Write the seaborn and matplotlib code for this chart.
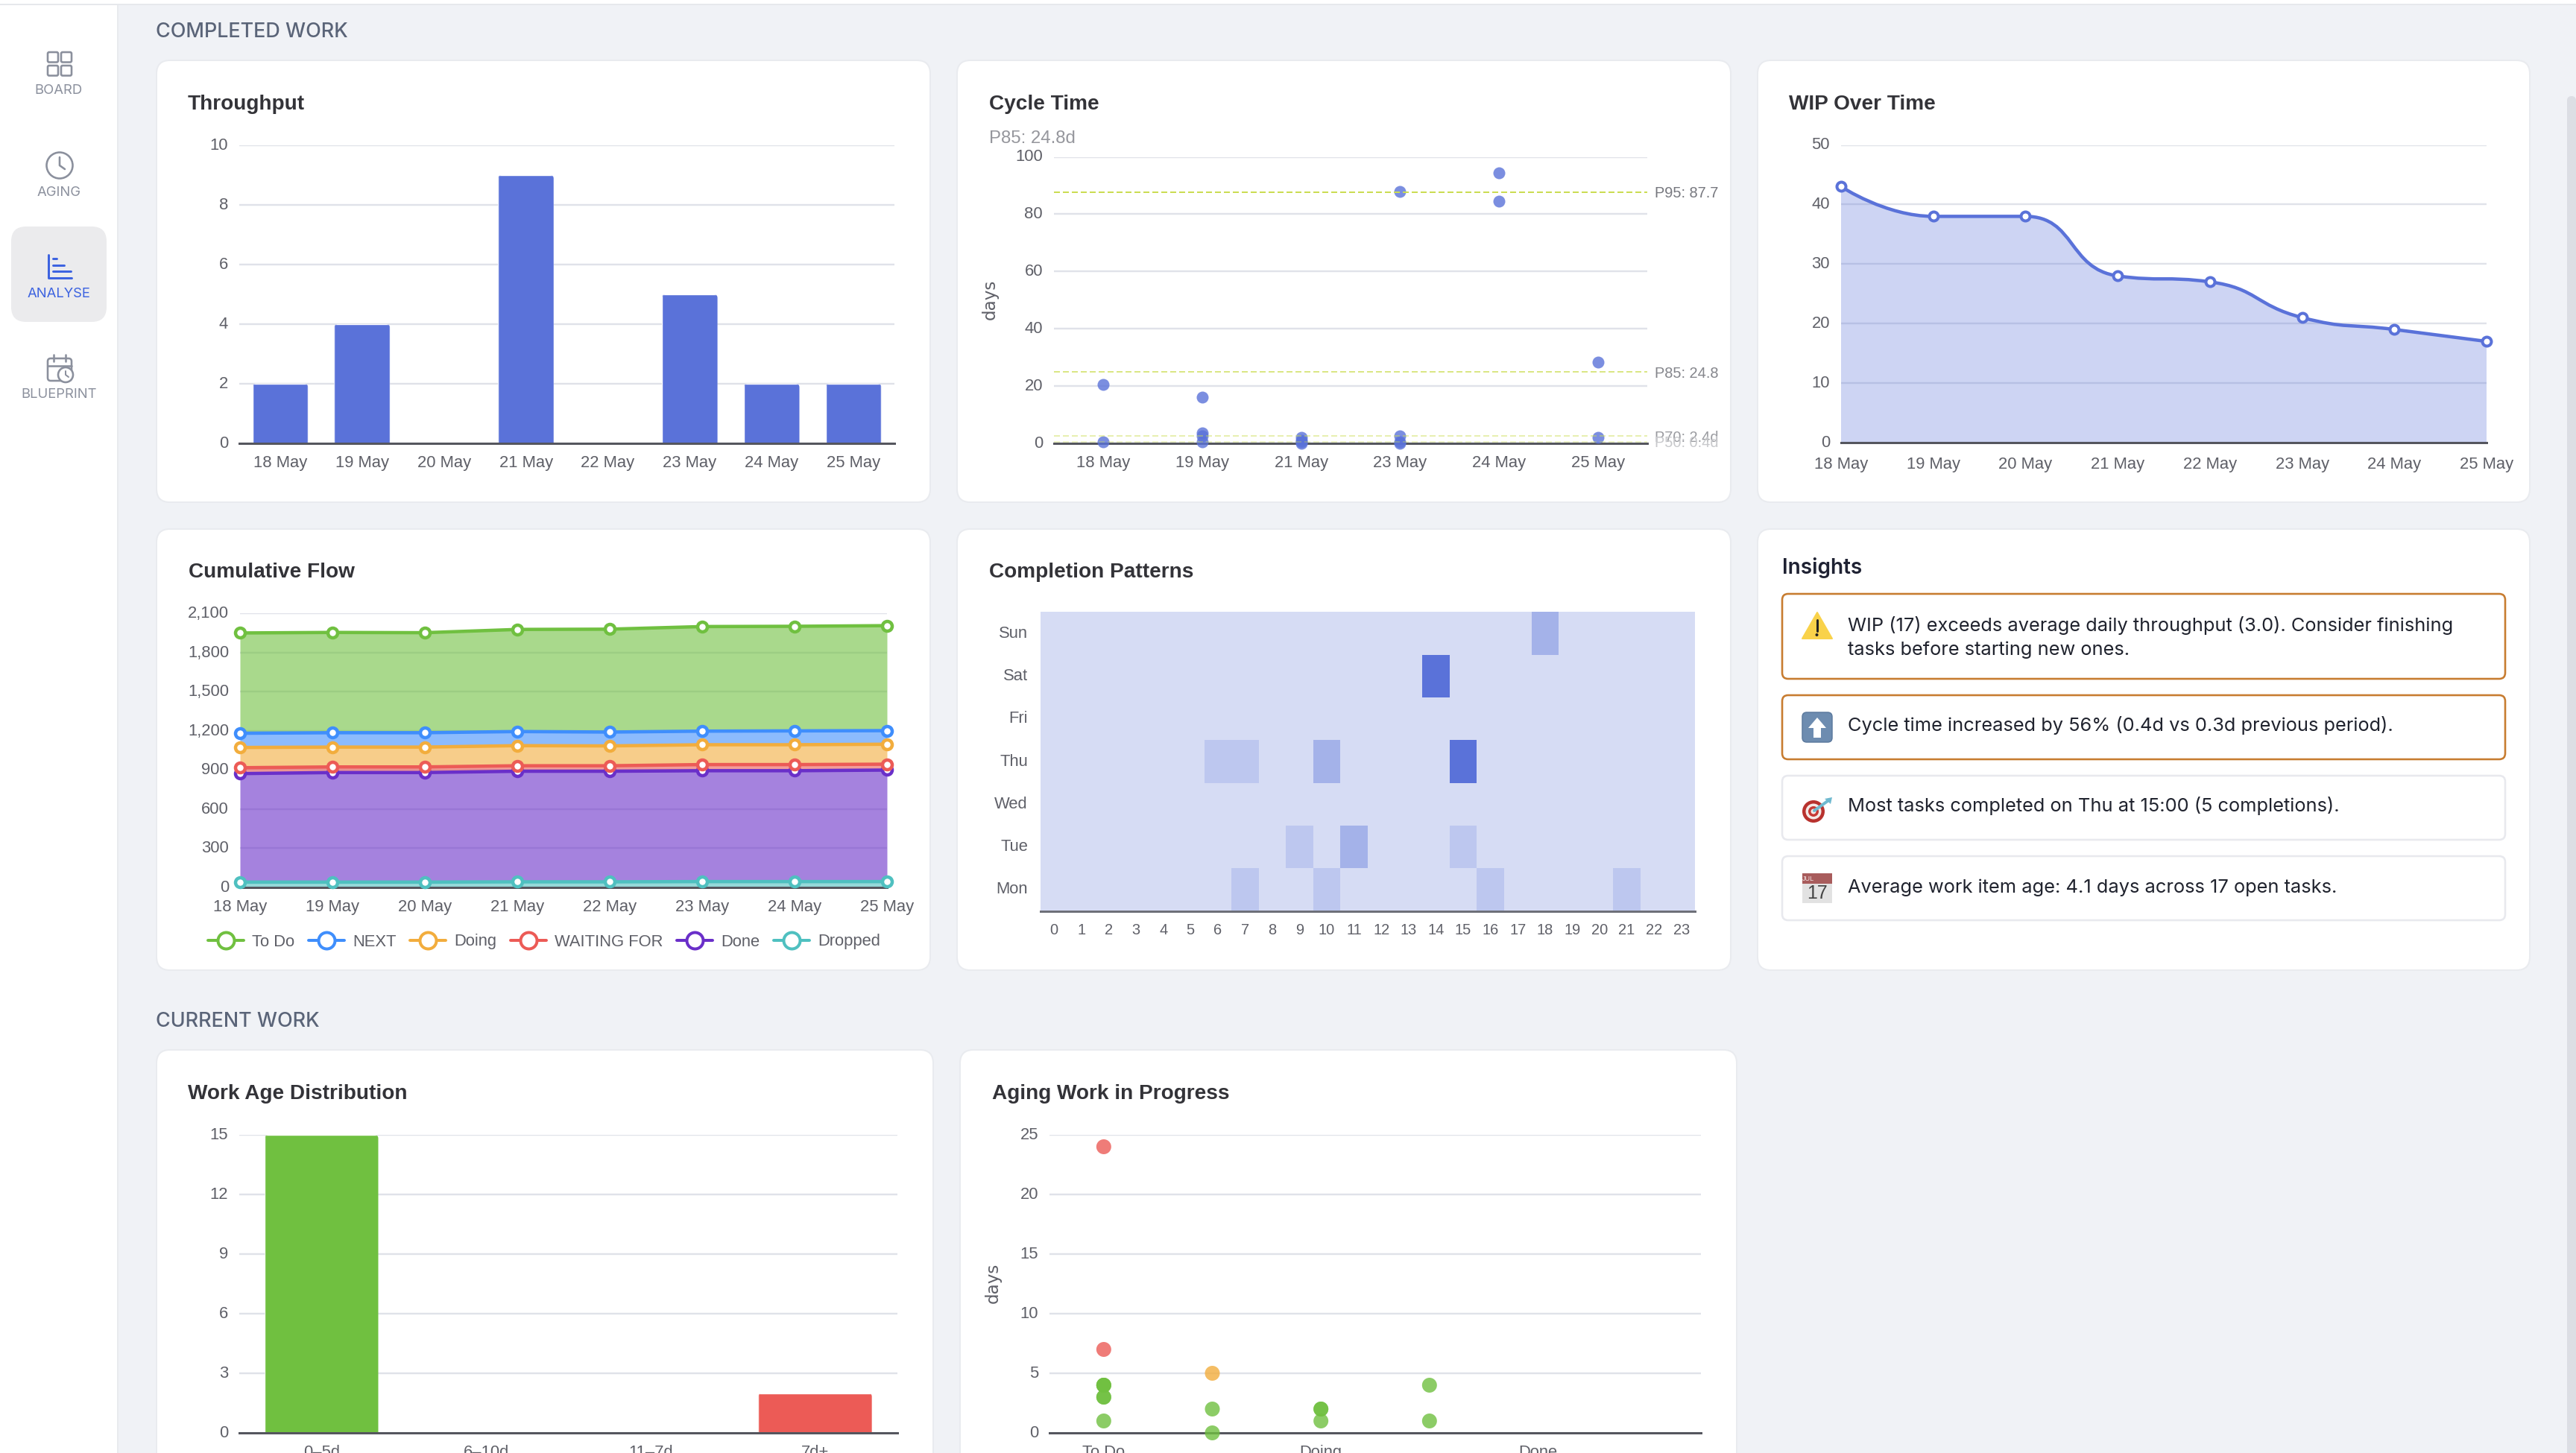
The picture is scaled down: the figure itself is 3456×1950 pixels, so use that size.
import numpy as np
import pandas as pd
import matplotlib
matplotlib.use("Agg")
import matplotlib.pyplot as plt
import seaborn as sns
from matplotlib.colors import LinearSegmentedColormap
from matplotlib.lines import Line2D
from matplotlib.patches import Circle, FancyBboxPatch, PathPatch, Polygon, Rectangle
from matplotlib.path import Path
from matplotlib.transforms import ScaledTranslation

# ---- data -------------------------------------------------------------
dates = ["18 May", "19 May", "20 May", "21 May", "22 May", "23 May", "24 May", "25 May"]
throughput = [2, 4, 0, 9, 0, 5, 2, 2]

cycle_dates = ["18 May", "19 May", "21 May", "23 May", "24 May", "25 May"]
cycle_x = ["18 May", "18 May", "19 May", "19 May", "19 May", "19 May", "21 May", "21 May",
           "21 May", "21 May", "23 May", "23 May", "23 May", "23 May", "24 May", "24 May",
           "25 May", "25 May"]
cycle_y = [20.5, 0.5, 16, 3.5, 2.5, 0.5, 2, 0.8, 0.3, 0, 88, 2.5, 0.5, 0, 94.5, 84.5, 28.3, 2]
percentile_labels = ["P95: 87.7", "P85: 24.8", "P70: 2.4d", "P50: 0.4d"]
percentile_values = [87.7, 24.8, 2.4, 0.4]

wip = [43, 38, 38, 28, 27, 21, 19, 17]

flow_names = ["Dropped", "Done", "WAITING FOR", "Doing", "NEXT", "To Do"]
flow_dropped = [41, 41, 41, 43, 43, 45, 45, 45]
flow_done = [831, 839, 839, 847, 847, 849, 849, 854]
flow_waiting = [45, 43, 43, 42, 42, 47, 47, 45]
flow_doing = [155, 152, 152, 154, 152, 152, 152, 153]
flow_next = [109, 110, 110, 108, 106, 104, 106, 104]
flow_todo = [768, 768, 766, 782, 788, 801, 801, 804]
legend_order = ["To Do", "NEXT", "Doing", "WAITING FOR", "Done", "Dropped"]

weekdays = ["Sun", "Sat", "Fri", "Thu", "Wed", "Tue", "Mon"]
hours = list(range(24))
completion_cells = [("Sun", 18, 2), ("Sat", 14, 5), ("Thu", 6, 1), ("Thu", 7, 1), ("Thu", 10, 2),
                    ("Thu", 15, 5), ("Tue", 9, 1), ("Tue", 11, 2), ("Tue", 15, 1),
                    ("Mon", 7, 1), ("Mon", 10, 1), ("Mon", 16, 1), ("Mon", 21, 1)]

age_bins = ["0–5d", "6–10d", "11–7d", "7d+"]
age_counts = [15, 0, 0, 2]

stages = ["To Do", "NEXT", "Doing", "WAITING FOR", "Done", "Dropped"]
stage_labels = ["To Do", "", "Doing", "", "Done", ""]
aging_stage = ["To Do"] * 8 + ["NEXT"] * 3 + ["Doing"] * 3 + ["WAITING FOR"] * 2
aging_days = [24, 7, 4, 4, 4, 3, 3, 1, 5, 2, 0, 2, 2, 1, 4, 1]
aging_level = ["old", "old", "new", "new", "new", "new", "new", "new", "mid", "new", "new",
               "new", "new", "new", "new", "new"]

insights = [
    "WIP (17) exceeds average daily throughput (3.0). Consider finishing\ntasks before starting new ones.",
    "Cycle time increased by 56% (0.4d vs 0.3d previous period).",
    "Most tasks completed on Thu at 15:00 (5 completions).",
    "Average work item age: 4.1 days across 17 open tasks.",
]

# ---- palette ----------------------------------------------------------
PAGE = "#f0f2f6"
BLUE = "#5a72d9"
GREEN = "#70c040"
RED = "#ec5b56"
ORANGE = "#f2ad3d"
GRID = "#e0e2e9"
AXIS = "#55565e"
TICK = "#5f6068"
TITLE = "#333338"
MUTED = "#8b909d"
ACTIVE = "#3d63e0"
flow_colors = {"To Do": GREEN, "NEXT": "#3f8efc", "Doing": ORANGE, "WAITING FOR": RED,
               "Done": "#6a2fc9", "Dropped": "#4fc0c0"}

W, H = 3456, 1950
SANS = ["Liberation Sans", "DejaVu Sans"]
UI = ["Inter", "DejaVu Sans"]

sns.set_theme(style="white")
plt.rcParams["font.family"] = SANS
plt.rcParams["axes.unicode_minus"] = False

fig = plt.figure(figsize=(W / 100, H / 100), dpi=100, facecolor=PAGE)


def pt(pixels):
    """Convert output pixels to points at 100 dpi."""
    return pixels * 0.72


# ---- page furniture, in pixel coordinates -------------------------------
bg = fig.add_axes([0, 0, 1, 1], zorder=0)
bg.set_xlim(0, W)
bg.set_ylim(H, 0)
bg.axis("off")


def rounded(x0, y0, x1, y1, radius, face, edge, lw=2.0, zorder=1):
    bg.add_patch(FancyBboxPatch((x0, y0), x1 - x0, y1 - y0,
                                boxstyle=f"round,pad=0,rounding_size={radius}",
                                facecolor=face, edgecolor=edge, linewidth=pt(lw), zorder=zorder))


def chart_axes(left, top, right, bottom):
    ax = fig.add_axes([left / W, 1 - bottom / H, (right - left) / W, (bottom - top) / H], zorder=2)
    ax.set_facecolor("none")
    return ax


def style_axes(ax, y_ticks, y_labels=None, xlim=None):
    for side in ("top", "left", "right"):
        ax.spines[side].set_visible(False)
    ax.spines["bottom"].set_color(AXIS)
    ax.spines["bottom"].set_linewidth(pt(3))
    ax.set_axisbelow(True)
    ax.grid(axis="y", color=GRID, linewidth=pt(2.4))
    ax.grid(axis="x", visible=False)
    ax.set_ylim(y_ticks[0], y_ticks[-1])
    ax.set_yticks(y_ticks, y_labels if y_labels else [str(t) for t in y_ticks])
    ax.tick_params(axis="y", length=0, pad=pt(15), labelsize=pt(22), labelcolor=TICK)
    ax.tick_params(axis="x", length=0, pad=pt(16), labelsize=pt(22), labelcolor=TICK)
    nudge = ScaledTranslation(0, 2 / 100, fig.dpi_scale_trans)
    for label in ax.get_yticklabels():
        label.set_transform(label.get_transform() + nudge)
    ax.set_xlabel("")
    ax.set_ylabel("")
    if xlim:
        ax.set_xlim(*xlim)


def round_bar_tops(ax, radius=5):
    """Clip each bar to a shape whose top corners are rounded by `radius` pixels."""
    box = ax.get_window_extent(fig.canvas.get_renderer())
    x0, x1 = ax.get_xlim()
    y0, y1 = ax.get_ylim()
    rx = radius * (x1 - x0) / box.width
    ry = radius * (y1 - y0) / box.height
    for bar in ax.patches:
        left, w, h = bar.get_x(), bar.get_width(), bar.get_height()
        if h <= 0:
            continue
        right = left + w
        verts = [(left, -1), (left, h - ry), (left, h), (left + rx, h), (right - rx, h),
                 (right, h), (right, h - ry), (right, -1), (left, -1)]
        codes = [Path.MOVETO, Path.LINETO, Path.CURVE3, Path.CURVE3, Path.LINETO,
                 Path.CURVE3, Path.CURVE3, Path.LINETO, Path.CLOSEPOLY]
        bar.set_clip_path(Path(verts, codes), ax.transData)


def smooth_curve(xs, ys, px_x, px_y, smooth=0.5):
    """Cubic segments through the points, with control arms clamped to each segment."""
    pts = np.column_stack([np.asarray(xs, float) * px_x, np.asarray(ys, float) * px_y])
    n = len(pts)
    verts = [pts[0]]
    codes = [Path.MOVETO]
    out = pts[0].copy()
    for i in range(1, n):
        p = pts[i]
        if i == n - 1:
            inc, nxt = p.copy(), p.copy()
        else:
            nx = pts[i + 1]
            v = nx - pts[i - 1]
            len_prev = np.linalg.norm(p - pts[i - 1])
            len_next = np.linalg.norm(nx - p)
            ratio = len_next / (len_prev + len_next)
            nxt = p + v * smooth * ratio
            nxt = np.clip(nxt, np.minimum(nx, p), np.maximum(nx, p))
            arm = nxt - p
            inc = p - arm * len_prev / len_next
            inc = np.clip(inc, np.minimum(pts[i - 1], p), np.maximum(pts[i - 1], p))
            arm = p - inc
            nxt = p + arm * len_next / len_prev
        verts += [out, inc, p]
        codes += [Path.CURVE4] * 3
        out = nxt
    return np.array(verts) / np.array([px_x, px_y]), codes


# page strip, sidebar and scrollbar
bg.add_patch(Rectangle((0, 0), 158, H, facecolor="white", edgecolor="none", zorder=0.5))
bg.add_patch(Rectangle((157, 0), 2, H, facecolor="#e8eaee", edgecolor="none", zorder=0.6))
bg.add_patch(Rectangle((0, 0), W, 6, facecolor="white", edgecolor="none", zorder=0.7))
bg.add_patch(Rectangle((0, 5), W, 2, facecolor="#e6e8ec", edgecolor="none", zorder=0.8))
rounded(3444, 129, 3456, 1990, 6, "#dcdee4", "none", lw=0)
rounded(15, 304, 143, 432, 20, "#ebebed", "none", lw=0)

# sidebar icons
ic_lw = pt(2.6)
for sx, sy in [(64, 70), (82, 70), (64, 88), (82, 88)]:
    bg.add_patch(FancyBboxPatch((sx, sy), 14, 13.5, boxstyle="round,pad=0,rounding_size=2",
                                facecolor="none", edgecolor=MUTED, linewidth=ic_lw, zorder=3))
bg.add_patch(Circle((80, 222), 17.5, facecolor="none", edgecolor=MUTED, linewidth=ic_lw, zorder=3))
bg.plot([80, 80, 87], [211, 222, 227], color=MUTED, linewidth=ic_lw, zorder=3)
bg.plot([65, 65, 96], [342, 373, 373], color=ACTIVE, linewidth=pt(3), zorder=3)
for ly, lx in [(347, 76), (356, 86), (364, 95)]:
    bg.plot([71, lx], [ly, ly], color=ACTIVE, linewidth=pt(3), zorder=3)
bg.add_patch(FancyBboxPatch((64, 481), 32, 30, boxstyle="round,pad=0,rounding_size=4",
                            facecolor="none", edgecolor=MUTED, linewidth=ic_lw, zorder=3))
bg.plot([64, 96], [491, 491], color=MUTED, linewidth=ic_lw, zorder=3)
bg.plot([72, 72], [476, 485], color=MUTED, linewidth=ic_lw, zorder=3)
bg.plot([88, 88], [476, 485], color=MUTED, linewidth=ic_lw, zorder=3)
bg.add_patch(Circle((88, 503), 10, facecolor="white", edgecolor=MUTED, linewidth=ic_lw, zorder=3.1))
bg.plot([88, 88, 92], [498, 503, 506], color=MUTED, linewidth=pt(2), zorder=3.2)

for label, ly, colour in [("BOARD", 122, MUTED), ("AGING", 258.5, MUTED),
                          ("ANALYSE", 394.5, ACTIVE), ("BLUEPRINT", 530, MUTED)]:
    bg.text(79, ly, label, family=UI, fontsize=pt(18.5), color=colour, ha="center", va="center", zorder=3)

bg.text(209, 43, "COMPLETED WORK", family=UI, fontsize=pt(27), color="#5a6478", ha="left", va="center", weight="medium")
bg.text(209, 1371, "CURRENT WORK", family=UI, fontsize=pt(27), color="#5a6478", ha="left", va="center", weight="medium")

# cards and their headings
cards = [
    (210, 81, 1248, 674, "Throughput", 252, 140),
    (1284, 81, 2322, 674, "Cycle Time", 1327, 140),
    (2358, 81, 3394, 674, "WIP Over Time", 2400, 140),
    (210, 710, 1248, 1302, "Cumulative Flow", 253, 768),
    (1284, 710, 2322, 1302, "Completion Patterns", 1327, 768),
    (2358, 710, 3394, 1302, None, 0, 0),
    (210, 1409, 1252, 2000, "Work Age Distribution", 252, 1468),
    (1288, 1409, 2330, 2000, "Aging Work in Progress", 1331, 1468),
]
for x0, y0, x1, y1, heading, tx, ty in cards:
    rounded(x0, y0, x1, y1, 18, "white", "#e9ebef")
    if heading:
        bg.text(tx, ty, heading, fontsize=pt(28), weight="bold", color=TITLE, ha="left", va="center", zorder=3)

# ---- Throughput -------------------------------------------------------
ax = chart_axes(321, 195, 1200, 595)
sns.barplot(x=dates, y=throughput, ax=ax, color=BLUE, saturation=1, width=0.68, order=dates)
style_axes(ax, [0, 2, 4, 6, 8, 10], xlim=(-0.5, 7.5))
round_bar_tops(ax)

# ---- Cycle Time -------------------------------------------------------
ax = chart_axes(1414, 210.5, 2210, 594.5)
sns.stripplot(x=cycle_x, y=cycle_y, order=cycle_dates, jitter=False, ax=ax, color=BLUE,
              size=pt(16), alpha=0.8, linewidth=0, zorder=3)
style_axes(ax, [0, 20, 40, 60, 80, 100], xlim=(-0.5, 5.5))
for coll in ax.collections:
    coll.set_clip_on(False)
line_alpha = [1, 0.7, 0.45, 0.3]
label_colour = ["#77787f", "#85868c", "#9a9ba0", "#c8c9cc"]
for name, val, a, colour in zip(percentile_labels, percentile_values, line_alpha, label_colour):
    ax.axhline(val, color="#cbdc52", alpha=a, linewidth=pt(2), dashes=(4, 2), zorder=4)
    ax.annotate(name, xy=(1, val), xycoords=ax.get_yaxis_transform(), xytext=(10, -2),
                textcoords="offset pixels", fontsize=pt(20), color=colour, ha="left", va="center",
                annotation_clip=False)
bg.text(1327, 185.5, "P85: 24.8d", fontsize=pt(24), color="#96979d", ha="left", va="center", zorder=3)
bg.text(1328, 402, "days", rotation=90, family=["DejaVu Sans"], fontsize=pt(23), color=TICK, ha="center", va="center", zorder=3)

# ---- WIP Over Time ----------------------------------------------------
ax = chart_axes(2470, 194.5, 3336, 594)
positions = np.arange(len(dates))
sns.scatterplot(x=positions, y=wip, ax=ax, s=pt(12) ** 2, color="white", edgecolor=BLUE,
                linewidth=pt(4), zorder=5, clip_on=False, legend=False)
style_axes(ax, [0, 10, 20, 30, 40, 50], xlim=(0, 7))
ax.set_xticks(positions, dates)
ax.tick_params(axis="x", length=pt(10), width=pt(2), color=AXIS, pad=pt(9))
verts, codes = smooth_curve(positions, wip, 866 / 7, 399.5 / 50)
ax.add_patch(PathPatch(Path(verts, codes), facecolor="none", edgecolor=BLUE, linewidth=pt(4.5), zorder=4, clip_on=False))
area_verts = np.vstack([verts, [[positions[-1], 0], [positions[0], 0], verts[0]]])
area_codes = codes + [Path.LINETO, Path.LINETO, Path.CLOSEPOLY]
ax.add_patch(PathPatch(Path(area_verts, area_codes), facecolor=BLUE, alpha=0.3, edgecolor="none", zorder=2))

# ---- Cumulative Flow --------------------------------------------------
ax = chart_axes(322, 823, 1190, 1191)
flow_table = pd.DataFrame(
    [flow_dropped, flow_done, flow_waiting, flow_doing, flow_next, flow_todo],
    index=flow_names, columns=positions).T
flow_tops = flow_table.cumsum(axis=1)
lower = np.zeros(len(positions))
for name in flow_names:
    upper = flow_tops[name].to_numpy()
    ax.fill_between(positions, lower, upper, color=flow_colors[name], alpha=0.6, linewidth=0, zorder=2)
    sns.lineplot(x=positions, y=upper, ax=ax, color=flow_colors[name], linewidth=pt(4.5),
                 marker="o", markersize=pt(13), markerfacecolor="white",
                 markeredgecolor=flow_colors[name], markeredgewidth=pt(4.5), clip_on=False, zorder=4)
    lower = upper
style_axes(ax, [0, 300, 600, 900, 1200, 1500, 1800, 2100],
           ["0", "300", "600", "900", "1,200", "1,500", "1,800", "2,100"], xlim=(0, 7))
ax.set_xticks(positions, dates)
ax.tick_params(axis="x", length=pt(10), width=pt(2), color=AXIS, pad=pt(6))
handles = [Line2D([], [], color=flow_colors[n], linewidth=pt(4), marker="o", markersize=pt(22),
                  markerfacecolor="white", markeredgewidth=pt(4), markeredgecolor=flow_colors[n])
           for n in legend_order]
fig.legend(handles, legend_order, loc="center", bbox_to_anchor=(730 / W, 1 - 1264 / H), ncol=6,
           frameon=False, fontsize=pt(22), labelcolor=TICK, handlelength=2.18, handletextpad=0.5,
           columnspacing=0.86, borderpad=0, borderaxespad=0)

# ---- Completion Patterns ----------------------------------------------
ax = chart_axes(1396, 821.5, 2274, 1222.5)
cells = pd.DataFrame(0, index=weekdays, columns=hours)
for day, hour, count in completion_cells:
    cells.loc[day, hour] = count
heat_cmap = LinearSegmentedColormap.from_list("completions", ["#d6dcf4", BLUE])
sns.heatmap(cells, ax=ax, cmap=heat_cmap, vmin=0, vmax=5, cbar=False, linewidths=0, square=False)
ax.set_xlabel("")
ax.set_ylabel("")
ax.spines["bottom"].set_visible(True)
ax.spines["bottom"].set_color("#6e7079")
ax.spines["bottom"].set_linewidth(pt(3))
ax.tick_params(axis="x", length=0, pad=pt(17), labelsize=pt(20), labelcolor=TICK, rotation=0)
ax.tick_params(axis="y", length=0, pad=pt(17), labelsize=pt(22), labelcolor=TICK, rotation=0)

# ---- Insights ---------------------------------------------------------
bg.text(2391, 762, "Insights", family=UI, fontsize=pt(28), weight="semibold", color="#1f2233", ha="left", va="center", zorder=3)
insight_boxes = [(797, 911, "#c77c30"), (933, 1019, "#c77c30"), (1041, 1127, "#e8e9ee"), (1149, 1235, "#e8e9ee")]
insight_text_y = [855.5, 974, 1082, 1191]
for (y0, y1, edge), text, ty in zip(insight_boxes, insights, insight_text_y):
    rounded(2391, y0, 3361, y1, 8, "white", edge, lw=2.6, zorder=2)
    bg.text(2479, ty, text, family=UI, fontsize=pt(25.4), color="#20232e", ha="left", va="center",
            linespacing=1.5, zorder=3)

# warning sign
bg.add_patch(Polygon([(2438, 822), (2458, 857), (2418, 857)], closed=True, facecolor="#f9d24a",
                     edgecolor="#f9d24a", linewidth=pt(2), joinstyle="round", zorder=3))
bg.plot([2437.5, 2437.5], [832, 847], color="#222", linewidth=pt(3), zorder=4)
bg.add_patch(Circle((2437.5, 852), 2, facecolor="#222", edgecolor="none", zorder=4))
# up arrow tile
bg.add_patch(FancyBboxPatch((2418, 956), 40, 40, boxstyle="round,pad=0,rounding_size=6",
                            facecolor="#6d8cb0", edgecolor="#5c7a9e", linewidth=pt(1.5), zorder=3))
bg.add_patch(Polygon([(2438, 963), (2450, 977), (2443, 977), (2443, 990), (2433, 990), (2433, 977), (2426, 977)],
                     closed=True, facecolor="white", edgecolor="none", zorder=4))
# dart board
for radius, colour in [(15, "#b8322e"), (10.5, "#f4e9e6"), (7, "#c63a35"), (3.5, "#f4e9e6")]:
    bg.add_patch(Circle((2433, 1089), radius, facecolor=colour, edgecolor="none", zorder=3))
bg.plot([2434, 2452], [1088, 1075], color="#6fb9cf", linewidth=pt(4), zorder=4)
bg.add_patch(Polygon([(2448, 1072), (2458, 1070), (2456, 1079)], closed=True, facecolor="#6fb9cf", edgecolor="none", zorder=4))
# calendar
bg.add_patch(Rectangle((2418, 1172), 40, 40, facecolor="#e2e2e2", edgecolor="none", zorder=3))
bg.add_patch(Rectangle((2418, 1172), 40, 14, facecolor="#a85c5c", edgecolor="none", zorder=3.1))
bg.text(2426, 1180, "JUL", fontsize=pt(9), color="#f0dede", ha="center", va="center", zorder=4)
bg.text(2438, 1199.5, "17", fontsize=pt(25), color="#444", ha="center", va="center", zorder=4)

# ---- Work Age Distribution --------------------------------------------
ax = chart_axes(321, 1523, 1204, 1923)
sns.barplot(x=age_bins, y=age_counts, ax=ax, hue=age_bins, dodge=False, legend=False, width=0.69,
            palette=[GREEN, ORANGE, ORANGE, RED], saturation=1, order=age_bins)
style_axes(ax, [0, 3, 6, 9, 12, 15], xlim=(-0.5, 3.5))
round_bar_tops(ax)

# ---- Aging Work in Progress -------------------------------------------
ax = chart_axes(1408, 1523, 2282, 1923)
sns.stripplot(x=aging_stage, y=aging_days, order=stages, hue=aging_level, jitter=False, dodge=False,
              palette={"new": GREEN, "mid": ORANGE, "old": RED}, size=pt(20), alpha=0.8, linewidth=0,
              ax=ax, legend=False, zorder=3)
style_axes(ax, [0, 5, 10, 15, 20, 25], xlim=(-0.5, 5.5))
ax.set_xticks(range(len(stages)), stage_labels)
for coll in ax.collections:
    coll.set_clip_on(False)
bg.text(1332, 1722, "days", rotation=90, family=["DejaVu Sans"], fontsize=pt(23), color=TICK, ha="center", va="center", zorder=3)

fig.savefig("out.png", dpi=100, facecolor=PAGE)
